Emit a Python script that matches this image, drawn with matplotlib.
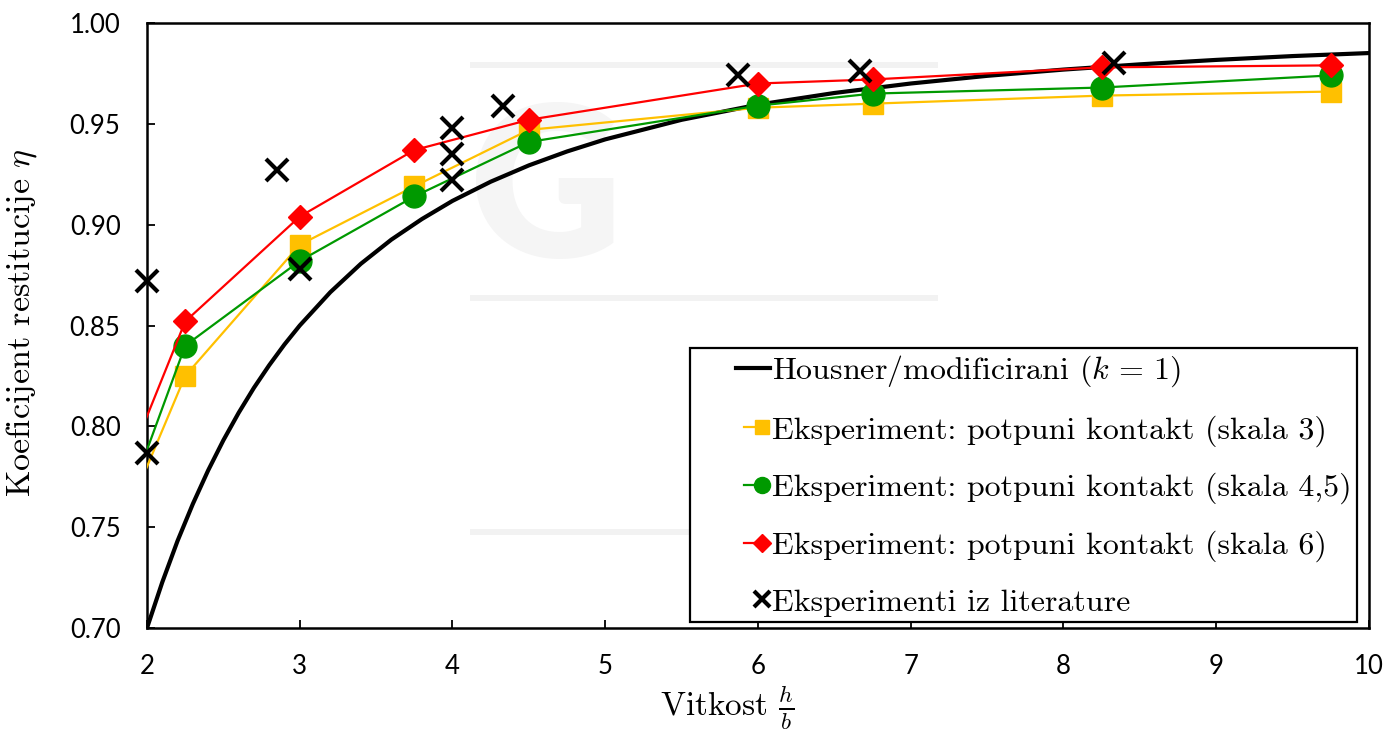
import matplotlib
matplotlib.use("Agg")
import matplotlib.pyplot as plt
from matplotlib.patches import Rectangle
from matplotlib.legend_handler import HandlerLine2D

# ---- data -------------------------------------------------------------
# Housner / modified curve (k = 1)
housner_x = [2.0, 2.1, 2.2, 2.3, 2.4, 2.5, 2.6, 2.7, 2.8, 2.9, 3.0, 3.2, 3.4,
             3.6, 3.8, 4.0, 4.25, 4.5, 4.75, 5.0, 5.5, 6.0, 6.5, 7.0, 7.5,
             8.0, 8.5, 9.0, 9.5, 10.0]
housner_y = [0.7000, 0.7227, 0.7432, 0.7615, 0.7781, 0.7931, 0.8067, 0.8191,
             0.8303, 0.8406, 0.8500, 0.8665, 0.8806, 0.8926, 0.9028, 0.9118,
             0.9213, 0.9294, 0.9363, 0.9423, 0.9520, 0.9595, 0.9653, 0.9700,
             0.9738, 0.9769, 0.9795, 0.9817, 0.9836, 0.9851]

# full-contact experiments (slenderness h/b)
exp_x = [1.5, 2.25, 3.0, 3.75, 4.5, 6.0, 6.75, 8.25, 9.75]
scale3_y = [0.690, 0.825, 0.890, 0.919, 0.947, 0.958, 0.960, 0.964, 0.966]
scale45_y = [0.685, 0.840, 0.882, 0.914, 0.941, 0.959, 0.965, 0.968, 0.974]
scale6_y = [0.711, 0.852, 0.904, 0.937, 0.952, 0.970, 0.972, 0.978, 0.979]

# experiments from the literature
lit_x = [2.0, 2.0, 2.85, 3.0, 4.0, 4.0, 4.0, 4.33, 5.87, 6.67, 8.33]
lit_y = [0.872, 0.787, 0.927, 0.878, 0.948, 0.935, 0.922, 0.959, 0.974, 0.976, 0.980]

y_ticks = [0.70, 0.75, 0.80, 0.85, 0.90, 0.95, 1.00]
x_ticks = [2, 3, 4, 5, 6, 7, 8, 9, 10]

labels = [r"Housner/modificirani ($k\,=\,1$)",
          "Eksperiment: potpuni kontakt (skala 3)",
          "Eksperiment: potpuni kontakt (skala 4,5)",
          "Eksperiment: potpuni kontakt (skala 6)",
          "Eksperimenti iz literature"]

YELLOW = "#FFC000"
GREEN = "#009900"
RED = "#FF0000"

plt.rcParams["mathtext.fontset"] = "cm"
plt.rcParams["axes.unicode_minus"] = False
SERIF = "cmr10"
TICK_FONT = "Lato"

fig = plt.figure(figsize=(13.87, 7.33), dpi=100)
ax = fig.add_axes([147 / 1387, 1 - 628 / 733, (1369 - 147) / 1387, (628 - 23) / 733])

# faint background logo
for yb in (0.9306, 0.5455, 0.1587):
    ax.add_patch(Rectangle((0.2643, yb - 0.0045), 0.383, 0.009, transform=ax.transAxes,
                           facecolor="#f2f2f2", edgecolor="none", zorder=0))
ax.text(0.3265, 0.613, "G", transform=ax.transAxes, ha="center", va="baseline",
        fontsize=152, fontfamily=TICK_FONT, fontweight="heavy", color="#f5f5f5", zorder=0)

ax.plot(housner_x, housner_y, color="black", lw=3.0, zorder=3, label=labels[0],
        solid_joinstyle="round")
ax.plot(exp_x, scale3_y, color=YELLOW, lw=1.6, marker="s", ms=14.5, zorder=4, label=labels[1])
ax.plot(exp_x, scale45_y, color=GREEN, lw=1.6, marker="o", ms=16.5, zorder=5, label=labels[2])
ax.plot(exp_x, scale6_y, color=RED, lw=1.6, marker="D", ms=12.5, zorder=6, label=labels[3])
ax.plot(lit_x, lit_y, ls="none", color="black", marker="x", ms=16, mew=3.0,
        zorder=7, clip_on=False, label=labels[4])

ax.set_xlim(2, 10)
ax.set_ylim(0.70, 1.00)
ax.set_xticks(x_ticks)
ax.set_yticks(y_ticks)
ax.set_yticklabels([f"{v:.2f}" for v in y_ticks])
ax.tick_params(axis="both", direction="in", length=6, width=1.3, labelsize=18.5)
ax.tick_params(axis="y", pad=19)
ax.tick_params(axis="x", pad=19)
for lab in ax.get_xticklabels() + ax.get_yticklabels():
    lab.set_fontfamily(TICK_FONT)
for sp in ax.spines.values():
    sp.set_linewidth(1.8)
    sp.set_color("black")

ax.set_xlabel(r"Vitkost $\frac{h}{b}$", fontfamily=SERIF, fontsize=24)
ax.xaxis.set_label_coords(0.475, -0.092)
ax.set_ylabel(r"Koeficijent restitucije $\eta$", fontfamily=SERIF, fontsize=24.5)
ax.yaxis.set_label_coords(-0.088, 0.505)


class EndMarkerHandler(HandlerLine2D):
    """Short line whose marker sits at the right end, next to the label."""

    def create_artists(self, legend, orig_handle, xdescent, ydescent, width,
                       height, fontsize, trans):
        arts = super().create_artists(legend, orig_handle, xdescent, ydescent,
                                      width, height, fontsize, trans)
        x_end = -xdescent + width
        y = (height - ydescent) / 2
        px = 0.72  # pixel -> point at 100 dpi
        for a in arts:
            if orig_handle.get_marker() in (None, "None", "", " "):
                a.set_data([x_end - 34 * px, x_end], [y, y])
            else:
                xm = x_end - 8 * px
                a.set_data([x_end - 26 * px, xm], [y, y])
                a.set_markevery([1])
        return arts


handles, _ = ax.get_legend_handles_labels()
leg = ax.legend(handles, labels, loc="lower right", bbox_to_anchor=(0.9902, 0.0099),
                borderaxespad=0, prop={"family": SERIF, "size": 23},
                handlelength=2.35, handletextpad=0.05, labelspacing=0.82,
                borderpad=0.17, numpoints=1, markerscale=0.7, fancybox=False,
                framealpha=1, edgecolor="black",
                handler_map={h: EndMarkerHandler() for h in handles})
leg.get_frame().set_linewidth(1.6)
leg.set_zorder(10)

fig.savefig("out.png", dpi=100)
